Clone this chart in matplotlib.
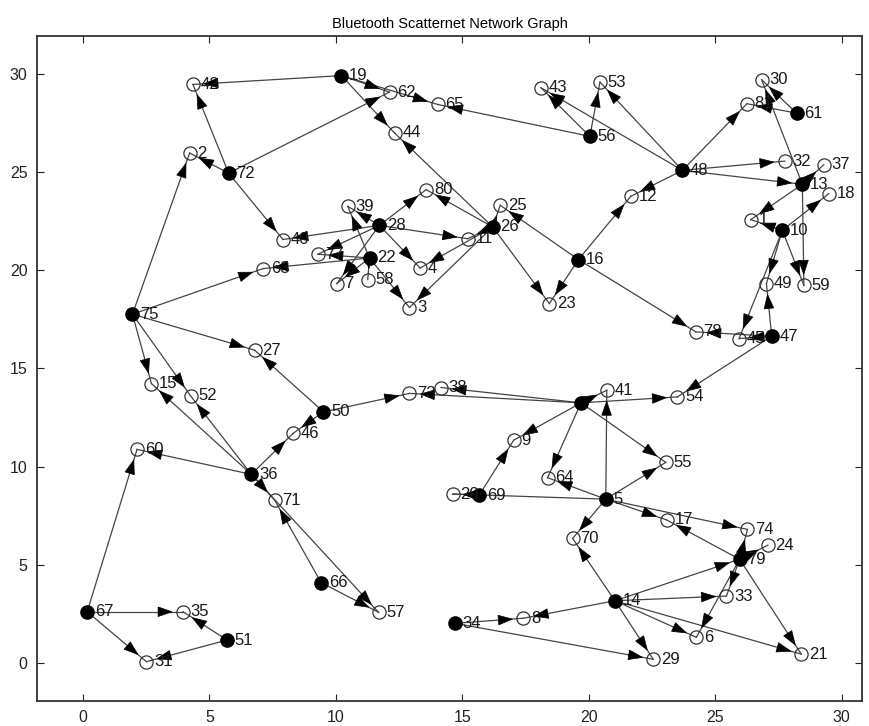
import numpy as np
import matplotlib
matplotlib.use('Agg')
import matplotlib.pyplot as plt
from matplotlib.patches import Polygon

plt.rcParams['font.family'] = ['Liberation Sans', 'DejaVu Sans']

# node names, coordinates and role (True = master, drawn filled)
node_names = ['42', '19', '62', '65', '44', '43', '53', '56', '48', '30',
              '81', '61', '32', '37', '13', '18', '12', '1', '10', '49',
              '59', '47', '45', '78', '16', '23', '25', '26', '11', '28',
              '39', '80', '22', '4', '58', '7', '3', '77', '40', '63',
              '75', '27', '2', '72', '15', '52', '60', '36', '71', '46',
              '50', '73', '38', '68', '41', '54', '55', '9', '64', '20',
              '69', '5', '17', '74', '24', '79', '70', '14', '33', '6',
              '21', '29', '8', '34', '66', '57', '67', '35', '51', '31']
node_x = [4.35, 10.22, 12.12, 14.03, 12.32, 18.11, 20.44, 20.04, 23.70, 26.83,
          26.25, 28.21, 27.75, 29.29, 28.44, 29.49, 21.66, 26.40, 27.65, 27.02,
          28.50, 27.23, 25.94, 24.23, 19.59, 18.44, 16.50, 16.20, 15.21, 11.72,
          10.47, 13.57, 11.33, 13.33, 11.26, 10.04, 12.91, 9.29, 7.91, 7.12,
          1.96, 6.79, 4.22, 5.76, 2.71, 4.26, 2.14, 6.66, 7.58, 8.30,
          9.51, 12.91, 14.16, 19.69, 20.71, 23.50, 23.04, 17.03, 18.37, 14.62,
          15.67, 20.67, 23.08, 26.27, 27.08, 25.96, 19.36, 21.03, 25.44, 24.25,
          28.40, 22.55, 17.41, 14.71, 9.42, 11.69, 0.17, 3.96, 5.70, 2.51]
node_y = [29.45, 29.90, 29.06, 28.43, 26.98, 29.28, 29.57, 26.81, 25.08, 29.69,
          28.47, 27.99, 25.55, 25.37, 24.37, 23.90, 23.76, 22.57, 22.03, 19.32,
          19.23, 16.64, 16.52, 16.86, 20.54, 18.30, 23.30, 22.20, 21.60, 22.28,
          23.25, 24.10, 20.62, 20.11, 19.52, 19.32, 18.10, 20.81, 21.56, 20.08,
          17.76, 15.93, 25.96, 24.94, 14.23, 13.60, 10.88, 9.61, 8.30, 11.69,
          12.79, 13.73, 14.03, 13.25, 13.89, 13.55, 10.22, 11.35, 9.44, 8.61,
          8.56, 8.35, 7.29, 6.81, 6.01, 5.29, 6.35, 3.18, 3.42, 1.32,
          0.46, 0.20, 2.29, 2.03, 4.10, 2.59, 2.62, 2.62, 1.18, 0.08]
masters = ['19', '56', '48', '61', '13', '10', '47', '16', '26', '28', '22',
           '75', '72', '36', '50', '68', '69', '5', '79', '14', '34', '66',
           '67', '51']
hidden_labels = ['68']

# directed links (source -> target)
edges = [('19', '42'), ('72', '42'), ('72', '2'), ('75', '2'), ('72', '62'),
         ('72', '40'), ('19', '62'), ('19', '65'), ('56', '65'), ('19', '44'),
         ('26', '44'), ('56', '43'), ('48', '43'), ('56', '53'), ('48', '53'),
         ('48', '81'), ('61', '30'), ('61', '81'), ('13', '30'), ('48', '32'),
         ('48', '13'), ('13', '37'), ('48', '12'), ('16', '12'), ('13', '1'),
         ('10', '1'), ('10', '18'), ('10', '49'), ('10', '59'), ('13', '59'),
         ('10', '45'), ('47', '49'), ('47', '45'), ('47', '78'), ('16', '78'),
         ('47', '54'), ('16', '25'), ('16', '23'), ('26', '23'), ('26', '25'),
         ('26', '80'), ('26', '11'), ('26', '4'), ('26', '3'), ('28', '80'),
         ('28', '39'), ('28', '11'), ('28', '4'), ('28', '77'), ('28', '7'),
         ('28', '40'), ('22', '39'), ('22', '77'), ('22', '7'), ('22', '58'),
         ('22', '3'), ('22', '63'), ('75', '63'), ('75', '27'), ('75', '15'),
         ('75', '52'), ('36', '52'), ('36', '15'), ('36', '60'), ('67', '60'),
         ('36', '46'), ('50', '46'), ('50', '27'), ('36', '71'), ('66', '71'),
         ('36', '57'), ('66', '57'), ('50', '73'), ('68', '73'), ('68', '38'),
         ('68', '41'), ('68', '54'), ('68', '55'), ('68', '9'), ('68', '64'),
         ('5', '41'), ('5', '55'), ('5', '64'), ('69', '20'), ('5', '20'),
         ('69', '9'), ('5', '17'), ('5', '74'), ('5', '70'), ('79', '17'),
         ('79', '74'), ('79', '24'), ('79', '33'), ('79', '6'), ('79', '21'),
         ('14', '79'), ('14', '33'), ('14', '6'), ('14', '21'), ('14', '29'),
         ('14', '70'), ('14', '8'), ('34', '8'), ('34', '29'), ('67', '35'),
         ('67', '31'), ('51', '35'), ('51', '31')]

pos = {n: (x, y) for n, x, y in zip(node_names, node_x, node_y)}

fig = plt.figure(figsize=(8.69, 7.26), dpi=100)
ax = fig.add_axes([0.043, 0.035, 0.949, 0.915])
ax.set_xlim(-1.8, 30.8)
ax.set_ylim(-1.9, 31.9)

# links
for s, t in edges:
    (x0, y0), (x1, y1) = pos[s], pos[t]
    ax.plot([x0, x1], [y0, y1], color='#444444', lw=0.9, zorder=1)

# arrow heads placed just before the target node (pixel geometry)
fig.canvas.draw()
to_px = ax.transData.transform
to_data = ax.transData.inverted().transform
tip_gap, head_len, head_half = 11.0, 14.0, 4.8
for s, t in edges:
    p0 = to_px(pos[s])
    p1 = to_px(pos[t])
    d = p1 - p0
    u = d / np.hypot(*d)
    nrm = np.array([-u[1], u[0]])
    tip = p1 - u * tip_gap
    base = tip - u * head_len
    tri = np.array([tip, base + nrm * head_half, base - nrm * head_half])
    ax.add_patch(Polygon(to_data(tri), closed=True, facecolor='black',
                         edgecolor='black', lw=0.5, zorder=3))

# nodes and their labels
for n, x, y in zip(node_names, node_x, node_y):
    if n in masters:
        ax.plot(x, y, 'o', ms=9.5, mfc='black', mec='black', zorder=4)
    else:
        ax.plot(x, y, 'o', ms=9.5, mfc='none', mec='#333333', mew=0.9, zorder=4)
    if n not in hidden_labels:
        ax.annotate(n, (x, y), xytext=(5.5, 0), textcoords='offset points',
                    va='center', ha='left', fontsize=12, color='#1a1a1a',
                    zorder=5)

ax.set_xticks(np.arange(0, 31, 5))
ax.set_yticks(np.arange(0, 31, 5))
ax.tick_params(direction='in', top=True, right=True, length=5,
               labelsize=11.5, colors='#222222', pad=7)
for sp in ax.spines.values():
    sp.set_linewidth(1.3)
    sp.set_color('#333333')
ax.set_title('Bluetooth Scatternet Network Graph', fontsize=10.5, pad=6)

fig.savefig('out.png', dpi=100)
